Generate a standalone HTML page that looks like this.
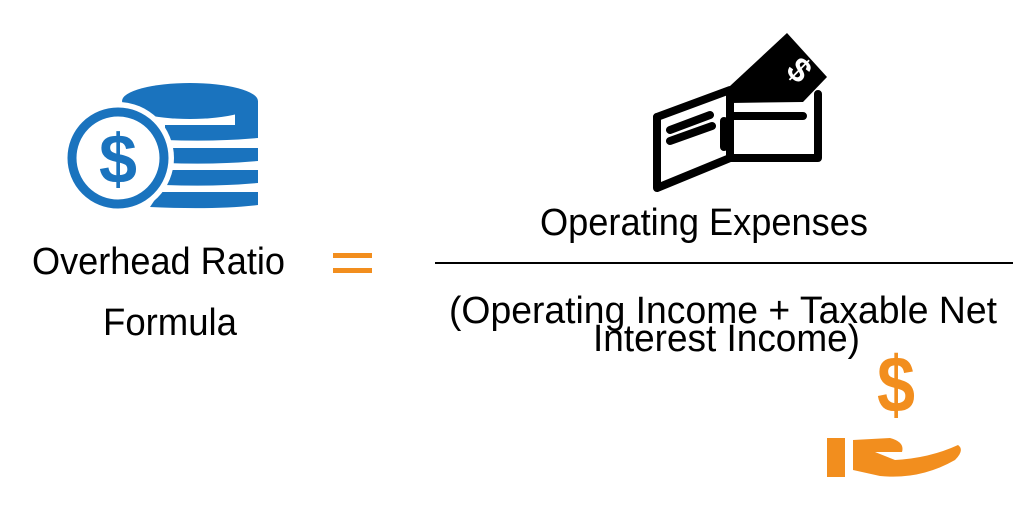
<!DOCTYPE html>
<html><head><meta charset="utf-8"><style>
html,body{margin:0;padding:0;background:#fff;width:1024px;height:526px;overflow:hidden}
</style></head><body>
<svg width="1024" height="526" viewBox="0 0 1024 526" xmlns="http://www.w3.org/2000/svg" font-family="Liberation Sans, sans-serif">
<!-- coin stack -->
<g fill="#1a73be">
<ellipse cx="190" cy="101" rx="68" ry="18"/>
<path d="M165 125 H258 V138 Q215 142 165 140 Z"/>
<path d="M165 148 H258 V161 Q215 165 165 163 Z"/>
<path d="M165 170 H258 V183 Q215 187 165 185 Z"/>
<path d="M160 192 H258 V205 Q215 210 150 207 Z"/>
<rect x="235" y="101" width="23" height="24"/>
</g>
<circle cx="118" cy="158" r="56" fill="#fff"/>
<circle cx="118" cy="158" r="46" fill="none" stroke="#1a73be" stroke-width="9"/>
<text x="118" y="183" text-anchor="middle" font-size="70" font-weight="bold" fill="#1a73be" textLength="38" lengthAdjust="spacingAndGlyphs">$</text>
<!-- wallet -->
<g fill="none" stroke="#000" stroke-width="8" stroke-linejoin="round" stroke-linecap="round">
<path d="M657 117 L730 90 L730 158 L818 158 L818 94"/>
<path d="M657 117 L657 188 L730 158"/>
<path d="M670 130 L710 115 M670 141 L712 126 M733 116 L803 116 M724 121 V147"/>
</g>
<polygon points="730,86 787,33 827,77 803,102 730,103" fill="#000"/>
<text x="790" y="82" font-size="34" font-weight="bold" fill="#fff" transform="rotate(45 800 70)">$</text>
<!-- text -->
<g font-size="38" fill="#000" lengthAdjust="spacingAndGlyphs">
<text x="32" y="274" textLength="253" lengthAdjust="spacingAndGlyphs">Overhead Ratio</text>
<text x="103" y="335" textLength="134" lengthAdjust="spacingAndGlyphs">Formula</text>
<text x="540" y="235" textLength="328" lengthAdjust="spacingAndGlyphs">Operating Expenses</text>
<text x="449" y="323" textLength="548" lengthAdjust="spacingAndGlyphs">(Operating Income + Taxable Net</text>
<text x="593" y="351" textLength="267" lengthAdjust="spacingAndGlyphs">Interest Income)</text>
</g>
<rect x="333" y="253" width="39" height="5" fill="#f28e1e"/>
<rect x="333" y="268" width="39" height="5" fill="#f28e1e"/>
<rect x="435" y="262" width="578" height="2" fill="#000"/>
<!-- money hand -->
<text x="896" y="412" text-anchor="middle" font-size="80" font-weight="bold" fill="#f28e1e" textLength="38" lengthAdjust="spacingAndGlyphs">$</text>
<rect x="827" y="438" width="18" height="39" fill="#f28e1e"/>
<path d="M853 440 L890 438 Q905 442 902 452 L875 452 L895 460 Q930 458 958 445 Q965 450 955 460 Q920 480 880 476 L853 470 Z" fill="#f28e1e"/>
</svg>
</body></html>
